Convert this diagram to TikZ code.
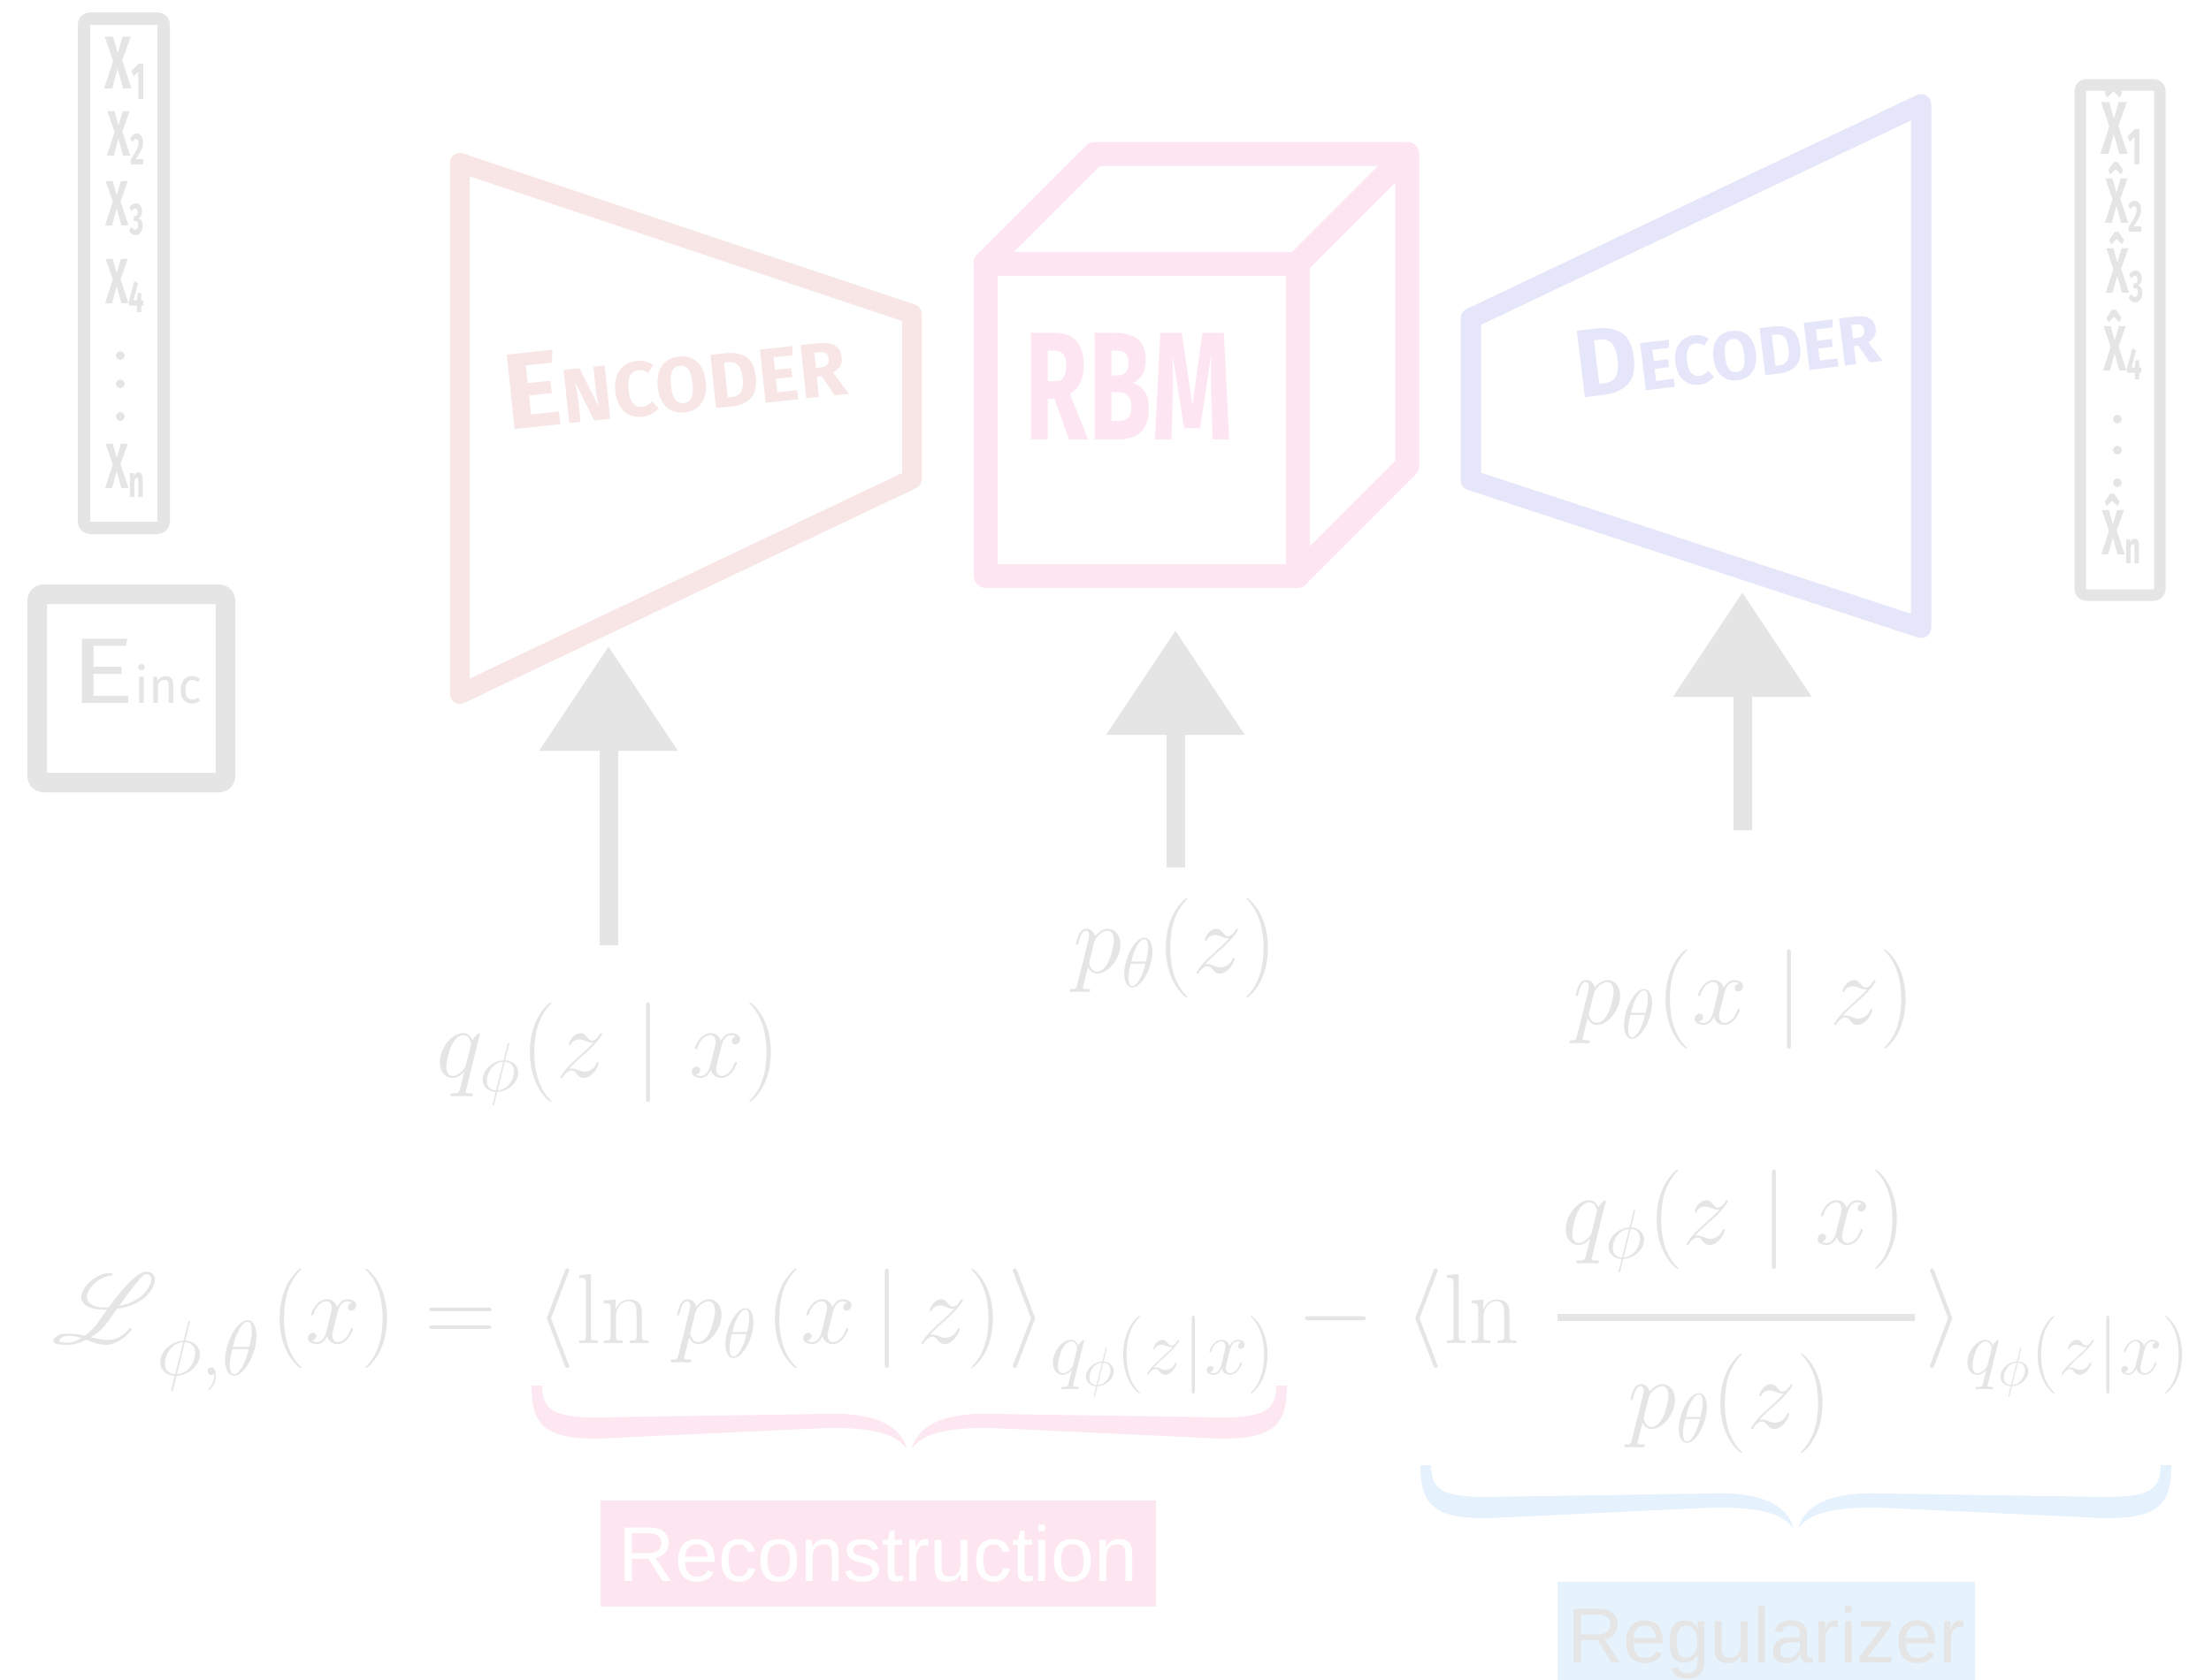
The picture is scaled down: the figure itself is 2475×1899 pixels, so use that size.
\RequirePackage{fix-cm}
\documentclass[tikz,border=0pt]{standalone}
\usepackage{amsmath}
\usepackage{graphicx}
\usepackage{fontspec}
\DeclareFontFamily{U}{rsfs}{\skewchar\font127 }
\DeclareFontShape{U}{rsfs}{m}{n}{<-6> rsfs5 <6-8> rsfs7 <8-> rsfs10}{}
\usepackage{mathrsfs}
\newfontfamily\hand{Fira Sans}
\newfontfamily\helv{Liberation Sans}
\usetikzlibrary{arrows.meta}
\definecolor{lg}{HTML}{E5E5E5}
\definecolor{encpink}{HTML}{F8E5E5}
\definecolor{rbmpink}{HTML}{FDE6F2}
\definecolor{declav}{HTML}{E6E6FA}
\definecolor{recpink}{HTML}{FDE6F0}
\definecolor{regblue}{HTML}{E6F3FD}
\definecolor{bracepink}{HTML}{FDE8F2}
\definecolor{braceblue}{HTML}{E5F2FD}
\newcommand\mybrace[4]{%
 \pgfmathsetmacro\bxm{(#1+#2)/2}%
 \fill[#4] (#1,#3) -- ({#1+12},#3) .. controls ({#1+12},{#3+28}) and ({#1+25},{#3+36}) .. ({#1+75},{#3+36})
   -- ({\bxm-95},{#3+32}) .. controls ({\bxm-40},{#3+30}) and ({\bxm-10},{#3+45}) .. ({\bxm-3},{#3+71})
   .. controls ({\bxm-15},{#3+55}) and ({\bxm-40},{#3+47}) .. ({\bxm-95},{#3+48})
   -- ({#1+75},{#3+60}) .. controls ({#1+15},{#3+60}) and (#1,{#3+45}) .. (#1,#3) -- cycle;
 \fill[#4] (#2,#3) -- ({#2-12},#3) .. controls ({#2-12},{#3+28}) and ({#2-25},{#3+36}) .. ({#2-75},{#3+36})
   -- ({\bxm+95},{#3+32}) .. controls ({\bxm+40},{#3+30}) and ({\bxm+10},{#3+45}) .. ({\bxm+3},{#3+71})
   .. controls ({\bxm+15},{#3+55}) and ({\bxm+40},{#3+47}) .. ({\bxm+95},{#3+48})
   -- ({#2-75},{#3+60}) .. controls ({#2-15},{#3+60}) and (#2,{#3+45}) .. (#2,#3) -- cycle;
}
\begin{document}
\begin{tikzpicture}[x=0.01cm,y=-0.01cm,
  every node/.style={inner sep=0pt, outer sep=0pt},
  mathtxt/.style={text=lg, font=\fontsize{32}{38}\selectfont},
  subtxt/.style={text=lg, font=\fontsize{25}{30}\selectfont},
  handg/.style={text=lg, font=\hand\bfseries\fontsize{20.6}{24}\selectfont},
  arr/.style={draw=lg, line width=5.97pt, -{Triangle[length=33.6pt,width=43pt]}},
  boxg/.style={draw=lg, rounded corners=2pt, line join=round},
  dotg/.style={fill=lg},
]
\fill[white] (0,0) rectangle (2475,1899);
\useasboundingbox (0,0) rectangle (2475,1899);

% input box
\draw[boxg, line width=3.98pt] (95,21) rectangle (185,597);
\node[handg, anchor=base west, font=\hand\bfseries\fontsize{24}{28}\selectfont] (x1) at (118,100) {\scalebox{0.62}[1]{X\textsubscript{1}}};
\node[handg, anchor=base west] (x2) at (121,176) {\scalebox{0.62}[1]{X\textsubscript{2}}};
\node[handg, anchor=base west] (x3) at (120,255) {\scalebox{0.62}[1]{X\textsubscript{3}}};
\node[handg, anchor=base west] (x4) at (119,343) {\scalebox{0.62}[1]{X\textsubscript{4}}};
\node[handg, anchor=base west] (xn) at (119,552) {\scalebox{0.62}[1]{X\textsubscript{n}}};
\fill[dotg] (136,402) circle (5);
\fill[dotg] (136,434) circle (5);
\fill[dotg] (136,471) circle (5);

% E_inc box
\draw[boxg, line width=6.26pt] (42,672) rectangle (255,885);
\node[anchor=base west, text=lg, font=\hand\fontsize{30}{36}\selectfont] (einc) at (79,795) {\scalebox{1.3}[1]{E}\fontsize{16}{19}\selectfont inc};

% encoder
\draw[encpink, line width=6.26pt, line join=round] (520,184) -- (1031,355) -- (1031,542) -- (520,785) -- cycle;
\node[text=encpink, rotate=6, font=\hand\bfseries\fontsize{34.7}{40}\selectfont] (enctxt) at (763,425) {E\fontsize{24.8}{30}\selectfont NCODER};

% RBM cube
\draw[rbmpink, line width=7.68pt, line join=round] (1114,298) rectangle (1467,651);
\draw[rbmpink, line width=7.68pt, line join=round, line cap=round] (1114,298) -- (1238,174) -- (1591,174) -- (1591,527) -- (1467,651);
\draw[rbmpink, line width=7.68pt, line cap=round] (1467,298) -- (1591,174);
\node[text=rbmpink, font=\hand\bfseries\fontsize{49.5}{56}\selectfont] (rbmtxt) at (1276,437) {\scalebox{0.67}[1]{RBM}};

% decoder
\draw[declav, line width=6.54pt, line join=round] (1663,360) -- (2172,118) -- (2172,710) -- (1663,543) -- cycle;
\node[text=declav, rotate=7, font=\hand\bfseries\fontsize{31}{36}\selectfont] (dectxt) at (1953,393) {D\fontsize{22}{26}\selectfont ECODER};

% output box
\draw[boxg, line width=3.7pt] (2352,96) rectangle (2442,673);
\node[handg, anchor=base west, font=\hand\bfseries\fontsize{24}{28}\selectfont] (y1) at (2375,174) {\scalebox{0.62}[1]{\^{X}\textsubscript{1}}};
\node[handg, anchor=base west] (y2) at (2380,252) {\scalebox{0.62}[1]{\^{X}\textsubscript{2}}};
\node[handg, anchor=base west] (y3) at (2381,331) {\scalebox{0.62}[1]{\^{X}\textsubscript{3}}};
\node[handg, anchor=base west] (y4) at (2378,419) {\scalebox{0.62}[1]{\^{X}\textsubscript{4}}};
\node[handg, anchor=base west] (yn) at (2376,627) {\scalebox{0.62}[1]{\^{X}\textsubscript{n}}};
\fill[dotg] (2394,474) circle (5);
\fill[dotg] (2394,509) circle (5);
\fill[dotg] (2394,546) circle (5);

% arrows
\coordinate (a1s) at (688,1069); \coordinate (a1e) at (688,731);
\coordinate (a2s) at (1329,981); \coordinate (a2e) at (1329,713);
\coordinate (a3s) at (1970,939); \coordinate (a3e) at (1970,670);
\draw[arr] (a1s) -- (a1e);
\draw[arr] (a2s) -- (a2e);
\draw[arr] (a3s) -- (a3e);

% labels
\node[mathtxt, anchor=base] (lq) at (688,1218) {$q_\phi(z\mid x)$};
\node[mathtxt, anchor=base] (lp) at (1329,1100) {$p_\theta(z)$};
\node[mathtxt, anchor=base] (lpx) at (1972,1158) {$p_\theta(x\mid z)$};

% main equation
\node[mathtxt, anchor=base west] (eqL) at (59,1519) {$\mathscr{L}$};
\node[subtxt, anchor=base west] (eqLs) at (177,1555) {$\phi{,}\theta$};
\node[mathtxt, anchor=base west] (eqx) at (306,1519) {$(x)$};
\node[mathtxt, anchor=base] (eqeq) at (521,1519) {$=$};
\node[mathtxt, anchor=base west] (eqa1) at (606,1519) {$\langle$};
\node[mathtxt, anchor=base west] (eqa2) at (651,1519) {$\ln$};
\node[mathtxt, anchor=base west] (eqa3) at (762,1519) {$p_\theta$};
\node[mathtxt, anchor=base west] (eqa4) at (866,1519) {$(x\,|\,z)$};
\node[mathtxt, anchor=base west] (eqa5) at (1139,1519) {$\rangle$};
\node[subtxt, anchor=base west] (eqas) at (1187,1554) {$q_\phi(z|x)$};
\node[mathtxt, anchor=base] (mn) at (1510,1519) {$-$};
\node[mathtxt, anchor=base west] (eqb1) at (1588,1519) {$\langle$};
\node[mathtxt, anchor=base west] (eqb2) at (1632,1519) {$\ln$};
\draw[lg, line width=2.4pt] (1761,1490) -- (2165,1490);
\node[mathtxt, anchor=base] (num) at (1961,1407) {$q_\phi(z\mid x)$};
\node[mathtxt, anchor=base] (den) at (1956,1615) {$p_\theta(z)$};
\node[mathtxt, anchor=base west] (eqc) at (2176,1519) {$\rangle$};
\node[subtxt, anchor=base west] (eqcs) at (2221,1554) {$q_\phi(z|x)$};

% braces
\mybrace{601}{1455}{1567}{bracepink}
\mybrace{1606}{2455}{1657}{braceblue}

% label boxes
\node[fill=recpink, minimum width=6.27cm, minimum height=1.2cm, text=white, font=\helv\fontsize{25}{30}\selectfont] (rec) at (993,1757) {Reconstruction};
\node[fill=regblue, minimum width=4.71cm, minimum height=1.2cm, text depth=0pt, text=lg, font=\helv\fontsize{25}{30}\selectfont] (reg) at (1997,1849) {Regularizer};
\end{tikzpicture}
\end{document}
